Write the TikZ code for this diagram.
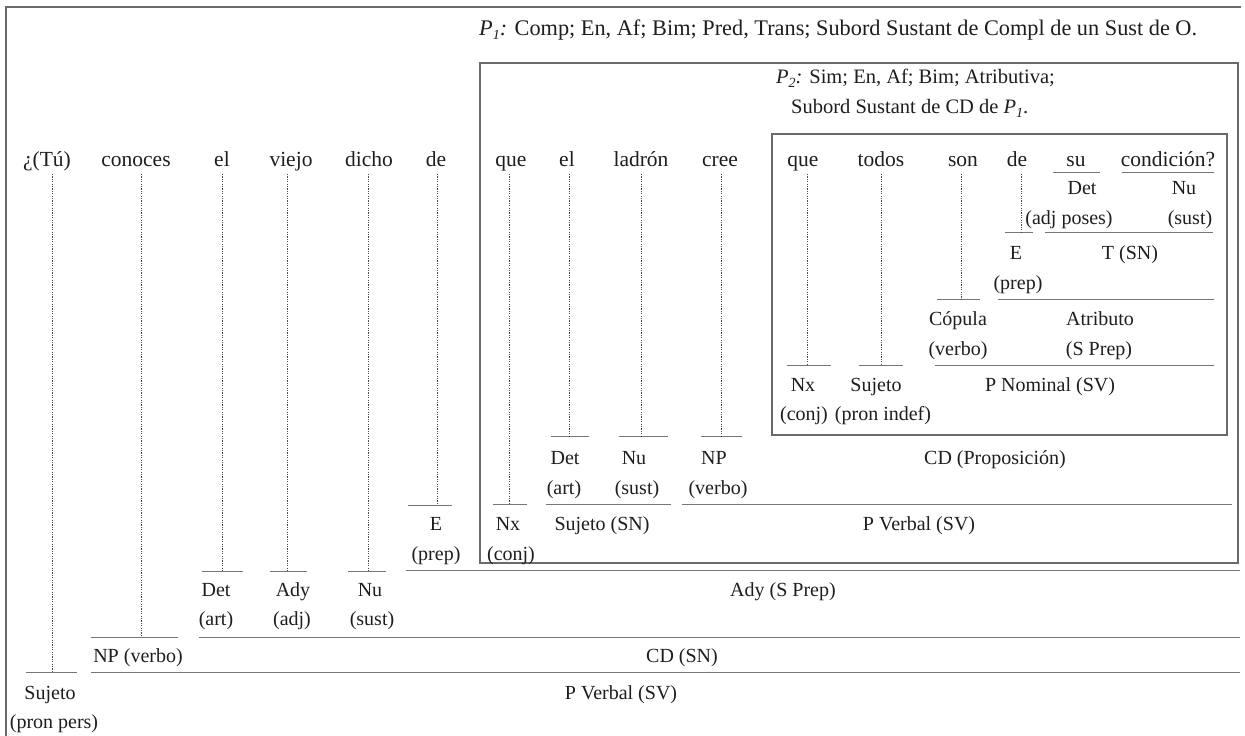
\documentclass[tikz,border=0pt]{standalone}
\usepackage{fontspec}
\setmainfont{Liberation Serif}
\definecolor{txt}{HTML}{1E1E1E}
\definecolor{linec}{HTML}{767676}
\definecolor{dotc}{HTML}{484848}
\definecolor{boxc}{HTML}{6A6A6A}
\newcommand{\Psub}[1]{\textit{P}\raisebox{-4pt}{\fontsize{14}{14}\selectfont\itshape #1}}
\begin{document}
\begin{tikzpicture}[x=1pt,y=-1pt,
  lbl/.style={anchor=base, inner sep=0pt, text=txt, font=\fontsize{20}{24}\selectfont},
  wrd/.style={lbl, font=\fontsize{21.5}{25}\selectfont},
  ttl/.style={lbl, anchor=base west, font=\fontsize{22.3}{26}\selectfont},
  bar/.style={draw=linec, line width=0.9pt},
  dotl/.style={draw=dotc, line width=1pt, dash pattern=on 1.2pt off 1.2pt},
  frame/.style={draw=boxc, line width=1.1pt}]
\useasboundingbox (0,0) rectangle (1245,736);
\fill[white] (0,0) rectangle (1245,736);

% frames
\coordinate (fTL) at (6,7);
\coordinate (fTR) at (1241,7);
\coordinate (fBL) at (6,736);
\draw[frame] (fBL) -- (fTL) -- (fTR);
\draw[frame] (480,63) coordinate (p1a) rectangle (1238,563) coordinate (p1b);
\draw[frame] (772,134) coordinate (p2a) rectangle (1227,435) coordinate (p2b);

% titles
\node[ttl] (t1) at (479,35) {\Psub{1}\textit{:} Comp; En, Af; Bim; Pred, Trans; Subord Sustant de Compl de un Sust de O.};
\node[ttl, font=\fontsize{20.5}{24}\selectfont] (t2) at (776,83) {\Psub{2}\textit{:} Sim; En, Af; Bim; Atributiva;};
\node[ttl, font=\fontsize{20.5}{24}\selectfont] (t3) at (791,113) {Subord Sustant de CD de \Psub{1}.};

% words
\node[wrd] (w1) at (47,166) {¿(Tú)};
\node[wrd] (w2) at (136,166) {conoces};
\node[wrd] (w3) at (222,166) {el};
\node[wrd] (w4) at (291,166) {viejo};
\node[wrd] (w5) at (369,166) {dicho};
\node[wrd] (w6) at (436,166) {de};
\node[wrd] (w7) at (511,166) {que};
\node[wrd] (w8) at (567,166) {el};
\node[wrd] (w9) at (641,166) {ladrón};
\node[wrd] (w10) at (720,166) {cree};
\node[wrd] (w11) at (803,166) {que};
\node[wrd] (w12) at (881,166) {todos};
\node[wrd] (w13) at (963,166) {son};
\node[wrd] (w14) at (1017,166) {de};
\node[wrd] (w15) at (1076,166) {su};
\node[wrd] (w16) at (1168,166) {condición?};

% bars
\draw[bar] (1053,172) coordinate (bsuL) -- (1100,172) coordinate (bsuR);
\draw[bar] (1122,172) coordinate (bcoL) -- (1214,172) coordinate (bcoR);
\draw[bar] (1005,232) coordinate (bEiL) -- (1033,232) coordinate (bEiR);
\draw[bar] (1045,232) coordinate (bTL) -- (1213,232) coordinate (bTR);
\draw[bar] (937,299) coordinate (bCoL) -- (980,299) coordinate (bCoR);
\draw[bar] (998,299) coordinate (bAtL) -- (1214,299) coordinate (bAtR);
\draw[bar] (787,365) coordinate (bNxiL) -- (831,365) coordinate (bNxiR);
\draw[bar] (859,365) coordinate (bSjiL) -- (903,365) coordinate (bSjiR);
\draw[bar] (935,365) coordinate (bPNL) -- (1214,365) coordinate (bPNR);
\draw[bar] (551,436) coordinate (bDt2L) -- (589,436) coordinate (bDt2R);
\draw[bar] (619,436) coordinate (bNu2L) -- (668,436) coordinate (bNu2R);
\draw[bar] (701,436) coordinate (bNP2L) -- (742,436) coordinate (bNP2R);
\draw[bar] (493,504) coordinate (bNxL) -- (527,504) coordinate (bNxR);
\draw[bar] (546,504) coordinate (bSjL) -- (671,504) coordinate (bSjR);
\draw[bar] (682,504) coordinate (bPV2L) -- (1232,504) coordinate (bPV2R);
\draw[bar] (408,505) coordinate (bEL) -- (452,505) coordinate (bER);
\draw[bar] (202,571) coordinate (bDtL) -- (243,571) coordinate (bDtR);
\draw[bar] (270,571) coordinate (bAdL) -- (307,571) coordinate (bAdR);
\draw[bar] (348,571) coordinate (bNuL) -- (386,571) coordinate (bNuR);
\draw[bar] (406,570) coordinate (bASPL) -- (1240,570) coordinate (bASPR);
\draw[bar] (91,637) coordinate (bNPL) -- (178,637) coordinate (bNPR);
\draw[bar] (199,637) coordinate (bCDL) -- (1240,637) coordinate (bCDR);
\draw[bar] (26,672) coordinate (bSuL) -- (77,672) coordinate (bSuR);
\draw[bar] (91,672) coordinate (bPVL) -- (1240,672) coordinate (bPVR);

% dotted stems
\draw[dotl] (52,174) coordinate (d1) -- (d1 |- bSuL);
\draw[dotl] (141,174) coordinate (d2) -- (d2 |- bNPL);
\draw[dotl] (222,174) coordinate (d3) -- (d3 |- bDtL);
\draw[dotl] (287,174) coordinate (d4) -- (d4 |- bAdL);
\draw[dotl] (368,174) coordinate (d5) -- (d5 |- bNuL);
\draw[dotl] (437,174) coordinate (d6) -- (d6 |- bEL);
\draw[dotl] (509,174) coordinate (d7) -- (d7 |- bNxL);
\draw[dotl] (569,174) coordinate (d8) -- (d8 |- bDt2L);
\draw[dotl] (641,174) coordinate (d9) -- (d9 |- bNu2L);
\draw[dotl] (721,174) coordinate (d10) -- (d10 |- bNP2L);
\draw[dotl] (807,174) coordinate (d11) -- (d11 |- bNxiL);
\draw[dotl] (881,174) coordinate (d12) -- (d12 |- bSjiL);
\draw[dotl] (961,174) coordinate (d13) -- (d13 |- bCoL);
\draw[dotl] (1021,174) coordinate (d14) -- (d14 |- bEiL);

% inner P2 labels
\node[lbl] (l1) at (1082,194) {Det};
\node[lbl] (l2) at (1184,194) {Nu};
\node[lbl] (l3) at (1069,224) {(adj poses)};
\node[lbl] (l4) at (1190,224) {(sust)};
\node[lbl] (l5) at (1016,259) {E};
\node[lbl] (l6) at (1130,259) {T (SN)};
\node[lbl] (l7) at (1018,289) {(prep)};
\node[lbl] (l8) at (958,325) {Cópula};
\node[lbl] (l9) at (1100,325) {Atributo};
\node[lbl] (l10) at (958,355) {(verbo)};
\node[lbl] (l11) at (1099,355) {(S Prep)};
\node[lbl] (l12) at (803,391) {Nx};
\node[lbl] (l13) at (876,391) {Sujeto};
\node[lbl] (l14) at (1050,391) {P Nominal (SV)};
\node[lbl] (l15) at (804,420) {(conj)};
\node[lbl] (l16) at (883,420) {(pron indef)};

% P1 labels
\node[lbl] (m1) at (565,464) {Det};
\node[lbl] (m2) at (634,464) {Nu};
\node[lbl] (m3) at (714,464) {NP};
\node[lbl] (m4) at (995,464) {CD (Proposición)};
\node[lbl] (m5) at (564,494) {(art)};
\node[lbl] (m6) at (637,494) {(sust)};
\node[lbl] (m7) at (718,494) {(verbo)};
\node[lbl] (m8) at (508,530) {Nx};
\node[lbl] (m9) at (602,530) {Sujeto (SN)};
\node[lbl] (m10) at (919,530) {P Verbal (SV)};
\node[lbl] (m11) at (511,560) {(conj)};

% outer labels
\node[lbl] (o1) at (436,530) {E};
\node[lbl] (o2) at (436,560) {(prep)};
\node[lbl] (o3) at (216,596) {Det};
\node[lbl] (o4) at (293,596) {Ady};
\node[lbl] (o5) at (370,596) {Nu};
\node[lbl] (o6) at (783,596) {Ady (S Prep)};
\node[lbl] (o7) at (216,625) {(art)};
\node[lbl] (o8) at (292,625) {(adj)};
\node[lbl] (o9) at (372,625) {(sust)};
\node[lbl] (o10) at (138,662) {NP (verbo)};
\node[lbl] (o11) at (682,662) {CD (SN)};
\node[lbl] (o12) at (50,699) {Sujeto};
\node[lbl] (o13) at (621,699) {P Verbal (SV)};
\node[lbl] (o14) at (54,728) {(pron pers)};
\end{tikzpicture}
\end{document}
